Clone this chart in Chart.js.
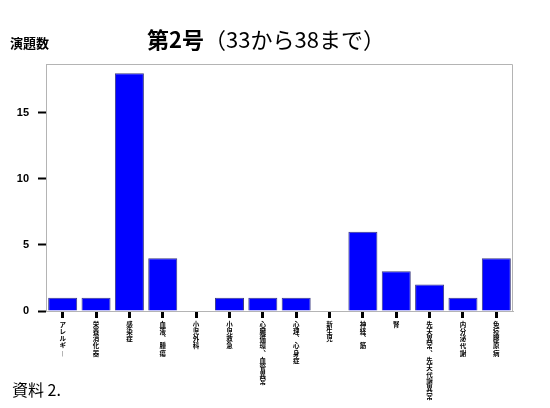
<!DOCTYPE html>
<html>
<head>
<meta charset="utf-8">
<script src="https://cdn.jsdelivr.net/npm/chart.js@4/dist/chart.umd.min.js"></script>
<style>
html,body{margin:0;padding:0;background:#fff;}
#wrap{width:550px;height:408px;position:relative;}
</style>
</head>
<body>
<div id="wrap"><canvas id="c" width="550" height="408"></canvas></div>
<script>
const categories = ["アレルギー","栄養消化器","感染症","血液、腫瘍","小児外科","小児救急","心臓循環、血管異常","心理、心身症","新生児","神経、筋","腎","先天異常、先天代謝異常","内分泌代謝","免疫膠原病"];
const counts = [1,1,18,4,0,1,1,1,0,6,3,2,1,4];
const yTicks = [0,5,10,15];
const titleBold = "第2号";
const titleRest = "（33から38まで）";
const yTitle = "演題数";
const footnote = "資料 2.";

const CJK = '"Noto Sans CJK JP", "Liberation Sans", sans-serif';

function verticalize(s){
  return Array.from(s).map(ch => ch === "、" ? "︑" : (ch === "ー" ? "︱" : ch));
}

const framePlugin = {
  id: 'frame',
  afterDraw(chart){
    const ctx = chart.ctx, a = chart.chartArea;
    ctx.save();
    ctx.strokeStyle = '#b4b4b4';
    ctx.lineWidth = 1;
    ctx.beginPath();
    ctx.moveTo(a.left+0.5, a.bottom);
    ctx.lineTo(a.left+0.5, a.top+0.5);
    ctx.lineTo(a.right-0.5, a.top+0.5);
    ctx.lineTo(a.right-0.5, a.bottom);
    ctx.stroke();
    // title
    ctx.fillStyle = '#000';
    ctx.textBaseline = 'middle';
    const fb = 'bold 22px ' + CJK;
    const fr = '22px ' + CJK;
    ctx.font = fb; const w1 = ctx.measureText(titleBold).width;
    ctx.font = fr; const w2 = ctx.measureText(titleRest).width;
    let x = 266 - (w1 + w2)/2;
    ctx.textAlign = 'left';
    ctx.font = fb; ctx.fillText(titleBold, x, 40);
    ctx.font = fr; ctx.fillText(titleRest, x + w1, 40);
    // y title
    ctx.font = 'bold 13px ' + CJK;
    ctx.fillText(yTitle, 10, 43);
    // footnote
    ctx.font = '16px ' + CJK;
    ctx.fillText(footnote, 12, 390);
    ctx.restore();
  }
};

new Chart(document.getElementById('c'), {
  type: 'bar',
  data: {
    labels: categories.map(verticalize),
    datasets: [{
      data: counts,
      backgroundColor: '#0000ff',
      borderColor: '#3a3a80',
      borderWidth: 1,
      categoryPercentage: 0.87,
      barPercentage: 1.0
    }]
  },
  options: {
    responsive: false,
    animation: false,
    devicePixelRatio: 1,
    layout: { padding: { left: 0, right: 37, top: 64, bottom: 0 } },
    plugins: { legend: { display: false }, tooltip: { enabled: false } },
    scales: {
      x: {
        grid: { offset: false, drawOnChartArea: false, color: '#000', tickColor: '#000', tickWidth: 3, tickLength: 7 },
        border: { color: '#b4b4b4', width: 1 },
        ticks: {
          color: '#000', maxRotation: 0, minRotation: 0, autoSkip: false, padding: 3,
          font: { family: CJK, size: 6.5, weight: 'bold', lineHeight: 1.1 }
        },
        afterFit(scale){ scale.height = 97; }
      },
      y: {
        min: 0, max: 18.7,
        grid: { drawOnChartArea: false, color: '#000', tickColor: '#000', tickWidth: 2, tickLength: 8 },
        border: { color: '#b4b4b4', width: 1 },
        ticks: {
          color: '#000', padding: 9,
          font: { family: '"Liberation Sans", sans-serif', size: 11, weight: 'bold' }
        },
        afterBuildTicks(scale){ scale.ticks = yTicks.map(v => ({ value: v })); },
        afterFit(scale){ scale.width = 46; }
      }
    }
  },
  plugins: [framePlugin]
});
</script>
</body>
</html>
